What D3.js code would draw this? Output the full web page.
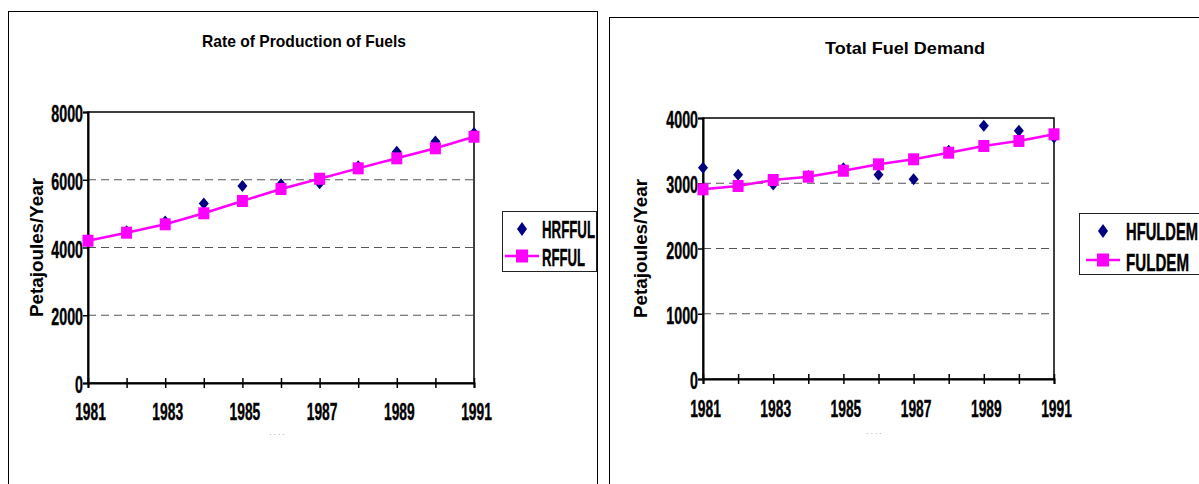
<!DOCTYPE html>
<html>
<head>
<meta charset="utf-8">
<script src="https://cdn.jsdelivr.net/npm/d3@7"></script>
<style>
  body { margin: 0; background: #fff; }
  svg { display: block; font-family: "Liberation Sans", Arial, sans-serif; }
</style>
</head>
<body>
<svg id="chart" width="1199" height="484"></svg>
<script>
// data
var years = [1981, 1982, 1983, 1984, 1985, 1986, 1987, 1988, 1989, 1990, 1991];
var hrfful = [4180, 4480, 4770, 5300, 5815, 5870, 5900, 6400, 6830, 7130, 7380];
var rfful = [4200, 4437, 4685, 5010, 5373, 5727, 6030, 6337, 6633, 6928, 7270];
var hfuldem = [3238, 3130, 2980, 3110, 3230, 3130, 3060, 3500, 3882, 3805, 3700];
var fuldem = [2907, 2958, 3050, 3101, 3192, 3290, 3367, 3468, 3571, 3648, 3750];
var productionTicks = [0, 2000, 4000, 6000, 8000];
var demandTicks = [0, 1000, 2000, 3000, 4000];
var yearLabels = [1981, 1983, 1985, 1987, 1989, 1991];

var svg = d3.select("#chart");

var panels = [
  {
    frame: { x: 8.5, y: 11.5, w: 589, h: 500 },
    title: "Rate of Production of Fuels", titleX: 304, titleY: 47, titleLen: 204,
    plot: { x0: 88, x1: 474, y0: 112, y1: 383 },
    yTicks: productionTicks,
    observed: hrfful, simulated: rfful,
    names: ["HRFFUL", "RFFUL"], nameLens: [53, 43],
    axisTitleX: 43, labelDy: 37, dotsX: 278, dotsY: 437,
    legend: { x: 502, y: 211, w: 94, h: 60, mark: 522, text: 542, row1: 229, row2: 256, base1: 238, base2: 266 }
  },
  {
    frame: { x: 609.5, y: 17.5, w: 640, h: 500 },
    title: "Total Fuel Demand", titleX: 905, titleY: 54, titleLen: 160,
    plot: { x0: 703, x1: 1054, y0: 118, y1: 379 },
    yTicks: demandTicks,
    observed: hfuldem, simulated: fuldem,
    names: ["HFULDEM", "FULDEM"], nameLens: [72, 63],
    axisTitleX: 647, labelDy: 38, dotsX: 875, dotsY: 436,
    legend: { x: 1079, y: 213, w: 125, h: 61, mark: 1103, text: 1126, row1: 231, row2: 260, base1: 240, base2: 271 }
  }
];

function diamond(w, h) {
  return "M0," + (-h / 2) + "L" + (w / 2) + ",0L0," + (h / 2) + "L" + (-w / 2) + ",0Z";
}

function drawPanel(p) {
  var g = svg.append("g");

  g.append("rect")
    .attr("x", p.frame.x).attr("y", p.frame.y)
    .attr("width", p.frame.w).attr("height", p.frame.h)
    .attr("fill", "none").attr("stroke", "#000").attr("stroke-width", 1);

  g.append("text")
    .attr("x", p.titleX).attr("y", p.titleY)
    .attr("text-anchor", "middle")
    .attr("font-size", 17).attr("font-weight", "bold")
    .attr("textLength", p.titleLen).attr("lengthAdjust", "spacingAndGlyphs")
    .text(p.title);

  var x = d3.scaleLinear().domain([years[0], years[years.length - 1]]).range([p.plot.x0, p.plot.x1]);
  var y = d3.scaleLinear().domain([0, p.yTicks[p.yTicks.length - 1]]).range([p.plot.y1, p.plot.y0]);

  // dashed gridlines
  g.append("g").selectAll("line")
    .data(p.yTicks.slice(1, -1))
    .enter().append("line")
    .attr("x1", p.plot.x0).attr("x2", p.plot.x1)
    .attr("y1", function(d) { return y(d); })
    .attr("y2", function(d) { return y(d); })
    .attr("stroke", "#555").attr("stroke-width", 1.2)
    .attr("stroke-dasharray", "8,5");

  // plot frame
  g.append("rect")
    .attr("x", p.plot.x0).attr("y", p.plot.y0)
    .attr("width", p.plot.x1 - p.plot.x0).attr("height", p.plot.y1 - p.plot.y0)
    .attr("fill", "none").attr("stroke", "#000").attr("stroke-width", 1.5);

  // y axis
  var ya = g.append("g")
    .attr("transform", "translate(" + p.plot.x0 + ",0)")
    .call(d3.axisLeft(y).tickValues(p.yTicks).tickSize(5).tickPadding(0).tickFormat(d3.format("d")));
  ya.select(".domain").attr("stroke", "#000").attr("stroke-width", 2);
  ya.selectAll(".tick line").attr("stroke", "#000").attr("stroke-width", 1.5);
  ya.selectAll(".tick text")
    .attr("font-size", 23).attr("font-weight", "bold").attr("font-family", null)
    .attr("fill", "#000").attr("stroke", "#000").attr("stroke-width", 0.4)
    .attr("dy", "0.42em")
    .each(function() {
      var t = d3.select(this);
      var L = this.getComputedTextLength() * 0.62;
      t.attr("text-anchor", "start").attr("x", -5 - L)
        .attr("textLength", L).attr("lengthAdjust", "spacingAndGlyphs");
    });

  // x axis
  var xa = g.append("g")
    .attr("transform", "translate(0," + p.plot.y1 + ")")
    .call(d3.axisBottom(x).tickValues(years).tickSize(5)
      .tickFormat(function(d) { return yearLabels.indexOf(d) >= 0 ? String(d) : ""; }));
  xa.select(".domain").attr("stroke", "#000").attr("stroke-width", 2);
  xa.selectAll(".tick line").attr("y1", -5).attr("stroke", "#000").attr("stroke-width", 1.5);
  xa.selectAll(".tick text")
    .attr("font-size", 23).attr("font-weight", "bold").attr("font-family", null)
    .attr("fill", "#000").attr("stroke", "#000").attr("stroke-width", 0.4)
    .attr("y", p.labelDy).attr("dy", 0)
    .each(function() {
      if (!this.textContent) return;
      var t = d3.select(this);
      var L = this.getComputedTextLength() * 0.6;
      t.attr("text-anchor", "start").attr("x", 2 - L / 2)
        .attr("textLength", L).attr("lengthAdjust", "spacingAndGlyphs");
    });

  // tiny x axis title
  g.append("text")
    .attr("x", p.dotsX).attr("y", p.dotsY)
    .attr("text-anchor", "middle").attr("font-size", 7).attr("fill", "#777")
    .attr("letter-spacing", 2)
    .text("····");

  // y axis title
  g.append("text")
    .attr("transform", "translate(" + p.axisTitleX + "," + (p.plot.y0 + p.plot.y1) / 2 + ") rotate(-90)")
    .attr("text-anchor", "middle")
    .attr("font-size", 18).attr("font-weight", "bold")
    .attr("textLength", 139).attr("lengthAdjust", "spacingAndGlyphs")
    .text("Petajoules/Year");

  // historical diamonds
  g.append("g").selectAll("path")
    .data(p.observed)
    .enter().append("path")
    .attr("d", diamond(10, 12))
    .attr("transform", function(d, i) { return "translate(" + x(years[i]) + "," + y(d) + ")"; })
    .attr("fill", "#000080");

  // simulated line with squares
  var line = d3.line()
    .x(function(d, i) { return x(years[i]); })
    .y(function(d) { return y(d); });
  g.append("path")
    .datum(p.simulated)
    .attr("d", line)
    .attr("fill", "none").attr("stroke", "#ff00ff").attr("stroke-width", 2.5);
  g.append("g").selectAll("rect")
    .data(p.simulated)
    .enter().append("rect")
    .attr("x", function(d, i) { return x(years[i]) - 5.5; })
    .attr("y", function(d) { return y(d) - 6; })
    .attr("width", 11).attr("height", 12)
    .attr("fill", "#ff00ff");

  // legend
  var lg = p.legend;
  g.append("rect")
    .attr("x", lg.x + 0.5).attr("y", lg.y + 0.5)
    .attr("width", lg.w).attr("height", lg.h)
    .attr("fill", "#fff").attr("stroke", "#222").attr("stroke-width", 1);
  g.append("path")
    .attr("d", diamond(10, 14))
    .attr("transform", "translate(" + lg.mark + "," + lg.row1 + ")")
    .attr("fill", "#000080");
  g.append("line")
    .attr("x1", lg.mark - 17).attr("x2", lg.mark + 17)
    .attr("y1", lg.row2).attr("y2", lg.row2)
    .attr("stroke", "#ff00ff").attr("stroke-width", 2.5);
  g.append("rect")
    .attr("x", lg.mark - 6).attr("y", lg.row2 - 6.5)
    .attr("width", 12).attr("height", 13)
    .attr("fill", "#ff00ff");
  [lg.base1, lg.base2].forEach(function(b, i) {
    g.append("text")
      .attr("x", lg.text).attr("y", b)
      .attr("font-size", 23).attr("font-weight", "bold")
      .attr("stroke", "#000").attr("stroke-width", 0.4)
      .attr("textLength", p.nameLens[i]).attr("lengthAdjust", "spacingAndGlyphs")
      .text(p.names[i]);
  });
}

panels.forEach(drawPanel);
</script>
</body>
</html>
